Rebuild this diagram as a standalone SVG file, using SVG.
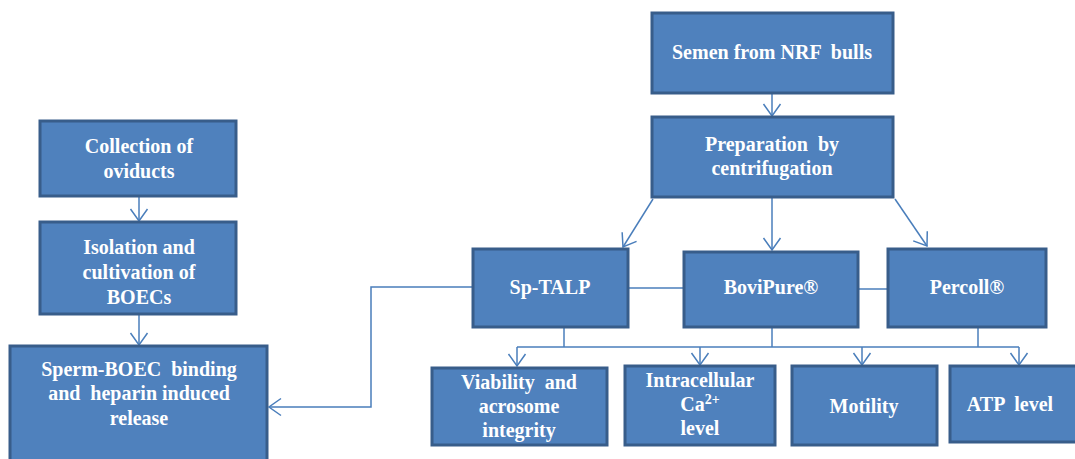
<svg xmlns="http://www.w3.org/2000/svg" width="1075" height="459" viewBox="0 0 1075 459">
<style>
.box{fill:#4F81BD;stroke:#385D8A;stroke-width:3}
.t{font-family:"Liberation Serif","Times New Roman",serif;font-weight:bold;font-size:20px;fill:#fff;text-anchor:middle;white-space:pre}
.c{fill:none;stroke:#4A7EBB;stroke-width:1.5}
</style>
<defs>
<marker id="a" markerUnits="userSpaceOnUse" markerWidth="16" markerHeight="20" refX="13" refY="10" orient="auto" viewBox="0 0 16 20">
<path d="M1,1.5 L13,10 L1,18.5" fill="none" stroke="#4A7EBB" stroke-width="1.5"/>
</marker>
</defs>
<g id="connectors">
<path class="c" d="M772,93 V116" marker-end="url(#a)"/>
<path class="c" d="M653,199 L623,247" marker-end="url(#a)"/>
<path class="c" d="M772,198 V250" marker-end="url(#a)"/>
<path class="c" d="M895,199 L927,246" marker-end="url(#a)"/>
<path class="c" d="M139,197 V221" marker-end="url(#a)"/>
<path class="c" d="M139,315 V345" marker-end="url(#a)"/>
<path class="c" d="M473,287 H371 V407 H269" marker-end="url(#a)"/>
<path class="c" d="M628,288 H684"/>
<path class="c" d="M858,289 H888"/>
<path class="c" d="M564,328 V347"/>
<path class="c" d="M772,328 V347"/>
<path class="c" d="M978,328 V347"/>
<path class="c" d="M517,347 H1019"/>
<path class="c" d="M517,347 V366" marker-end="url(#a)"/>
<path class="c" d="M700,347 V365" marker-end="url(#a)"/>
<path class="c" d="M862,347 V365" marker-end="url(#a)"/>
<path class="c" d="M1019,347 V365" marker-end="url(#a)"/>
</g>
<g id="semen"><rect class="box" x="652" y="13" width="241" height="80"/><text class="t" x="772" y="59" xml:space="preserve">Semen from NRF  bulls</text></g>
<g id="prep"><rect class="box" x="652" y="117" width="241" height="80"/><text class="t" x="772" y="151" xml:space="preserve">Preparation  by</text><text class="t" x="772" y="175">centrifugation</text></g>
<g id="collection"><rect class="box" x="40" y="121" width="196" height="75"/><text class="t" x="139" y="153">Collection of</text><text class="t" x="139" y="178">oviducts</text></g>
<g id="isolation"><rect class="box" x="40" y="222" width="196" height="92"/><text class="t" x="139" y="254">Isolation and</text><text class="t" x="139" y="279">cultivation of</text><text class="t" x="139" y="304">BOECs</text></g>
<g id="sperm"><rect class="box" x="10" y="346" width="257" height="116"/><text class="t" x="139" y="376" xml:space="preserve">Sperm-BOEC  binding</text><text class="t" x="139" y="400" xml:space="preserve">and  heparin induced</text><text class="t" x="139" y="425">release</text></g>
<g id="sptalp"><rect class="box" x="473" y="249" width="155" height="78"/><text class="t" x="550" y="294">Sp-TALP</text></g>
<g id="bovipure"><rect class="box" x="684" y="252" width="174" height="75"/><text class="t" x="771" y="294">BoviPure®</text></g>
<g id="percoll"><rect class="box" x="888" y="249" width="158" height="78"/><text class="t" x="967" y="294">Percoll®</text></g>
<g id="viability"><rect class="box" x="432" y="368" width="175" height="77"/><text class="t" x="519" y="389" xml:space="preserve">Viability  and</text><text class="t" x="519" y="413">acrosome</text><text class="t" x="519" y="437">integrity</text></g>
<g id="calcium"><rect class="box" x="625" y="366" width="150" height="79"/><text class="t" x="700" y="387">Intracellular</text><text class="t" x="700" y="411">Ca<tspan font-size="14" dy="-7">2+</tspan></text><text class="t" x="700" y="435">level</text></g>
<g id="motility"><rect class="box" x="792" y="366" width="145" height="79"/><text class="t" x="864" y="413">Motility</text></g>
<g id="atp"><rect class="box" x="950" y="366" width="130" height="76"/><text class="t" x="1010" y="411" xml:space="preserve">ATP  level</text></g>
</svg>
